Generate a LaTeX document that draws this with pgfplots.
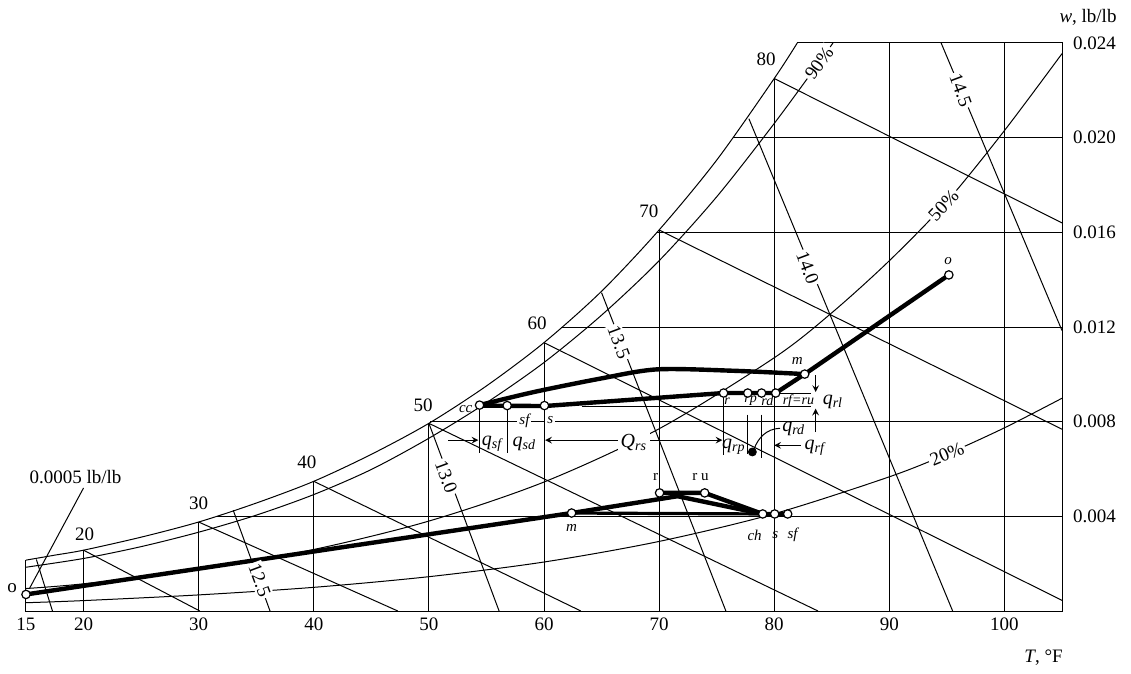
\documentclass[border=0pt]{standalone}
\usepackage{pgfplots}
\pgfplotsset{compat=1.18}
\usepackage{fontspec}
\setmainfont{Liberation Serif}
\begin{document}
\begin{tikzpicture}
\tikzset{
  thin line/.style={black, line width=0.5pt},
  proc/.style={black, line width=2.2pt, line join=round},
  pt/.style={only marks, mark=*, mark size=2.1pt, mark options={fill=white, draw=black, line width=0.6pt}},
  lbl/.style={font=\fontsize{9.5}{11}\selectfont, inner sep=0.5pt},
  gap/.style={font=\fontsize{9.5}{11}\selectfont, fill=white, inner sep=1pt},
  sm/.style={font=\fontsize{7.5}{9}\selectfont\itshape, inner sep=0.5pt},
  xs/.style={font=\fontsize{7}{8}\selectfont\itshape, inner sep=0.3pt},
  ql/.style={font=\fontsize{10}{12}\selectfont, inner sep=0.5pt},
}
\begin{axis}[
  scale only axis, width=518pt, height=284pt,
  xmin=15, xmax=105, ymin=0, ymax=24,
  clip=false,
  axis x line*=bottom, axis y line*=right,
  axis line style={draw=none},
  major tick length=0pt,
  xtick={15,20,30,40,50,60,70,80,90,100},
  xticklabels={15,20,30,40,50,60,70,80,90,100},
  ytick={4,8,12,16,20,24},
  yticklabels={0.004,0.008,0.012,0.016,0.020,0.024},
  ticklabel style={font=\fontsize{9.5}{11}\selectfont},
  yticklabel style={xshift=2pt},
  /pgf/number format/assume math mode=true,
]
% ---------- frame ----------
\addplot[thin line] coordinates {(15,2.15)(15,0)(105,0)(105,24)(82,24)};
% ---------- saturation and RH curves ----------
\addplot[thin line, smooth] coordinates {(15,2.15)(17.5,2.36)(20,2.57)(25,3.12)(30,3.76)(35,4.56)(40,5.48)(45,6.62)(50,7.93)(55,9.51)(60,11.34)(65,13.51)(70,16.1)(75,19.05)(80,22.5)(82,24.0)};
\addplot[thin line, smooth] coordinates {(15,1.85)(20,2.22)(25,2.72)(30,3.33)(35,4.05)(40,4.92)(45,5.98)(50,7.3)(55,8.8)(60,10.5)(65,12.5)(70,14.8)(75,17.5)(80,20.6)(84,23.25)(85.1,24.0)};
\addplot[thin line, smooth] coordinates {(15,0.95)(20,1.15)(30,1.75)(40,2.6)(50,3.8)(60,5.45)(70,7.7)(80,10.7)(85,12.6)(90,14.8)(95,17.3)(100,20.3)(105,23.55)};
\addplot[thin line, smooth] coordinates {(15,0.35)(20,0.44)(30,0.68)(40,1.0)(50,1.45)(60,2.07)(70,2.94)(80,4.11)(90,5.67)(95,6.63)(100,7.74)(105,8.99)};
% ---------- dry-bulb verticals ----------
\addplot[thin line] coordinates {(20,0)(20,2.57)};
\addplot[thin line] coordinates {(30,0)(30,3.76)};
\addplot[thin line] coordinates {(40,0)(40,5.48)};
\addplot[thin line] coordinates {(50,0)(50,7.93)};
\addplot[thin line] coordinates {(60,0)(60,11.34)};
\addplot[thin line] coordinates {(70,0)(70,16.1)};
\addplot[thin line] coordinates {(80,0)(80,22.5)};
\addplot[thin line] coordinates {(90,0)(90,24)};
\addplot[thin line] coordinates {(100,0)(100,24)};
% ---------- humidity horizontals ----------
\addplot[thin line] coordinates {(31.6,4)(105,4)};
\addplot[thin line] coordinates {(50.1,8)(105,8)};
\addplot[thin line] coordinates {(61.5,12)(105,12)};
\addplot[thin line] coordinates {(69.8,16)(105,16)};
\addplot[thin line] coordinates {(76.4,20)(105,20)};
% ---------- wet-bulb lines ----------
\addplot[thin line] coordinates {(20,2.57)(30.1,0)};
\addplot[thin line] coordinates {(30,3.76)(47.3,0)};
\addplot[thin line] coordinates {(40,5.48)(63.2,0)};
\addplot[thin line] coordinates {(50,7.93)(83.8,0)};
\addplot[thin line] coordinates {(60,11.34)(105,0.45)};
\addplot[thin line] coordinates {(70,16.1)(105,7.68)};
\addplot[thin line] coordinates {(80,22.5)(105,16.4)};
% ---------- specific volume lines ----------
\addplot[thin line] coordinates {(15.9,2.18)(17.3,0)};
\addplot[thin line] coordinates {(33.0,4.26)(36.2,0)};
\addplot[thin line] coordinates {(50.0,7.93)(56.1,0)};
\addplot[thin line] coordinates {(65.0,13.45)(75.8,0)};
\addplot[thin line] coordinates {(77.8,20.8)(95.5,0)};
\addplot[thin line] coordinates {(94.5,24)(105,11.85)};
% ---------- annotation lines (summer) ----------
\addplot[thin line] coordinates {(54.4,8.7)(54.4,6.67)};
\addplot[thin line] coordinates {(56.8,8.66)(56.8,6.67)};
\addplot[thin line] coordinates {(75.6,9.21)(75.6,6.59)};
\addplot[thin line] coordinates {(77.7,8.3)(77.7,6.62)};
\addplot[thin line] coordinates {(78.9,8.3)(78.9,6.46)};
\addplot[thin line] coordinates {(63.3,8.62)(83.2,8.62)};
\addplot[thin line] coordinates {(80.13,9.21)(83.2,9.21)};
\addplot[thin line, -stealth] coordinates {(51.7,7.22)(54.3,7.22)};
\addplot[thin line, stealth-stealth] coordinates {(60.1,7.22)(75.5,7.22)};
\addplot[thin line, -stealth] coordinates {(82.3,7.0)(80.0,7.0)};
\addplot[thin line, -stealth] coordinates {(83.6,9.97)(83.6,9.25)};
\addplot[thin line, -stealth] coordinates {(83.6,7.56)(83.6,8.55)};
\addplot[only marks, mark=*, mark size=2pt, black] coordinates {(78.1,6.72)};
\draw[thin line] (axis cs:80.5,7.72) .. controls (axis cs:79.3,7.7) and (axis cs:78.6,7.3) .. (axis cs:78.25,6.85);
% ---------- summer process ----------
\addplot[proc] coordinates {(95.17,14.2)(82.65,10.01)(80.13,9.21)(75.6,9.21)(60.04,8.66)(54.4,8.68)};
\addplot[proc, smooth] coordinates {(54.4,8.7)(59.1,9.25)(64.9,9.82)(69.84,10.21)(76.5,10.15)(82.65,10.01)};
\addplot[pt] coordinates {(95.17,14.2)(82.65,10.01)(80.13,9.21)(78.9,9.21)(77.7,9.21)(75.6,9.21)(60.04,8.68)(56.8,8.68)(54.4,8.7)};
% ---------- winter process ----------
\addplot[thin line, line width=0.5pt] coordinates {(20,5.2)(15.3,0.95)};
\addplot[proc] coordinates {(15,0.7)(62.4,4.14)(71.6,4.85)(79.0,4.1)};
\addplot[proc] coordinates {(70.04,4.99)(73.96,4.99)(79.0,4.1)(81.17,4.1)};
\addplot[proc, line width=1.6pt] coordinates {(62.4,4.14)(79.0,4.1)};
\addplot[pt] coordinates {(15,0.7)(62.4,4.14)(70.04,4.99)(73.96,4.99)(79.0,4.1)(80.04,4.1)(81.17,4.1)};
% ---------- labels on lines ----------
\node[gap, rotate=-69.5] at (axis cs:35.3,1.3) {12.5};
\node[gap, rotate=-69.5] at (axis cs:51.5,5.66) {13.0};
\node[gap, rotate=-69.5] at (axis cs:66.5,11.35) {13.5};
\node[gap, rotate=-69.5] at (axis cs:82.9,14.5) {14.0};
\node[gap, rotate=-69.5] at (axis cs:96.2,22.0) {14.5};
\node[gap, rotate=54] at (axis cs:83.9,23.15) {90\%};
\node[gap, rotate=47] at (axis cs:94.7,17.15) {50\%};
\node[gap, rotate=23] at (axis cs:95,6.63) {20\%};
% wet-bulb labels
\node[lbl] at (axis cs:20.1,3.25) {20};
\node[lbl] at (axis cs:30,4.56) {30};
\node[lbl] at (axis cs:39.4,6.29) {40};
\node[lbl] at (axis cs:49.5,8.7) {50};
\node[lbl] at (axis cs:59.4,12.15) {60};
\node[lbl] at (axis cs:69.1,16.9) {70};
\node[lbl] at (axis cs:79.3,23.3) {80};
% point labels summer
\node[sm] at (axis cs:95.1,14.8) {o};
\node[sm] at (axis cs:82.0,10.55) {m};
\node[sm] at (axis cs:53.2,8.55) {cc};
\node[sm, fill=white, inner sep=1pt] at (axis cs:58.3,8.05) {sf};
\node[sm, fill=white, inner sep=1pt] at (axis cs:60.55,8.05) {s};
\node[xs] at (axis cs:75.9,8.88) {r};
\node[xs] at (axis cs:77.95,8.88) {rp};
\node[xs] at (axis cs:79.4,8.88) {rd};
\node[xs] at (axis cs:82.1,8.88) {rf=ru};
% q labels
\node[ql] at (axis cs:55.55,7.05) {\textit{q}\textsubscript{\textit{sf}}};
\node[ql] at (axis cs:58.3,7.05) {\textit{q}\textsubscript{\textit{sd}}};
\node[ql, fill=white, inner sep=1.5pt] at (axis cs:67.8,7.1) {\textit{Q}\textsubscript{\textit{rs}}};
\node[ql] at (axis cs:76.5,6.95) {\textit{q}\textsubscript{\textit{rp}}};
\node[ql] at (axis cs:81.7,7.7) {\textit{q}\textsubscript{\textit{rd}}};
\node[ql] at (axis cs:83.6,6.9) {\textit{q}\textsubscript{\textit{rf}}};
\node[ql] at (axis cs:85.1,8.85) {\textit{q}\textsubscript{\textit{rl}}};
% point labels winter
\node[sm] at (axis cs:62.4,3.5) {m};
\node[font=\fontsize{7.5}{9}\selectfont, inner sep=0.5pt] at (axis cs:69.7,5.65) {r};
\node[font=\fontsize{7.5}{9}\selectfont, inner sep=0.5pt] at (axis cs:73.6,5.65) {r u};
\node[sm] at (axis cs:78.3,3.2) {ch};
\node[sm] at (axis cs:80.1,3.2) {s};
\node[sm] at (axis cs:81.6,3.2) {sf};
\node[lbl] at (axis cs:13.8,0.95) {o};
\node[lbl] at (axis cs:19.3,5.65) {0.0005 lb/lb};
% axis titles
\node[lbl, anchor=center, yshift=-23.5pt] at (axis cs:103.4,0) {\textit{T}, °F};
\node[lbl, anchor=center, xshift=13pt, yshift=13pt] at (axis cs:105,24) {\textit{w}, lb/lb};
\end{axis}
\pgfresetboundingbox
\path[use as bounding box] ([shift={(-13pt,-31pt)}]current axis.south west) rectangle ([shift={(34.5pt,21.5pt)}]current axis.north east);
\end{tikzpicture}
\end{document}
